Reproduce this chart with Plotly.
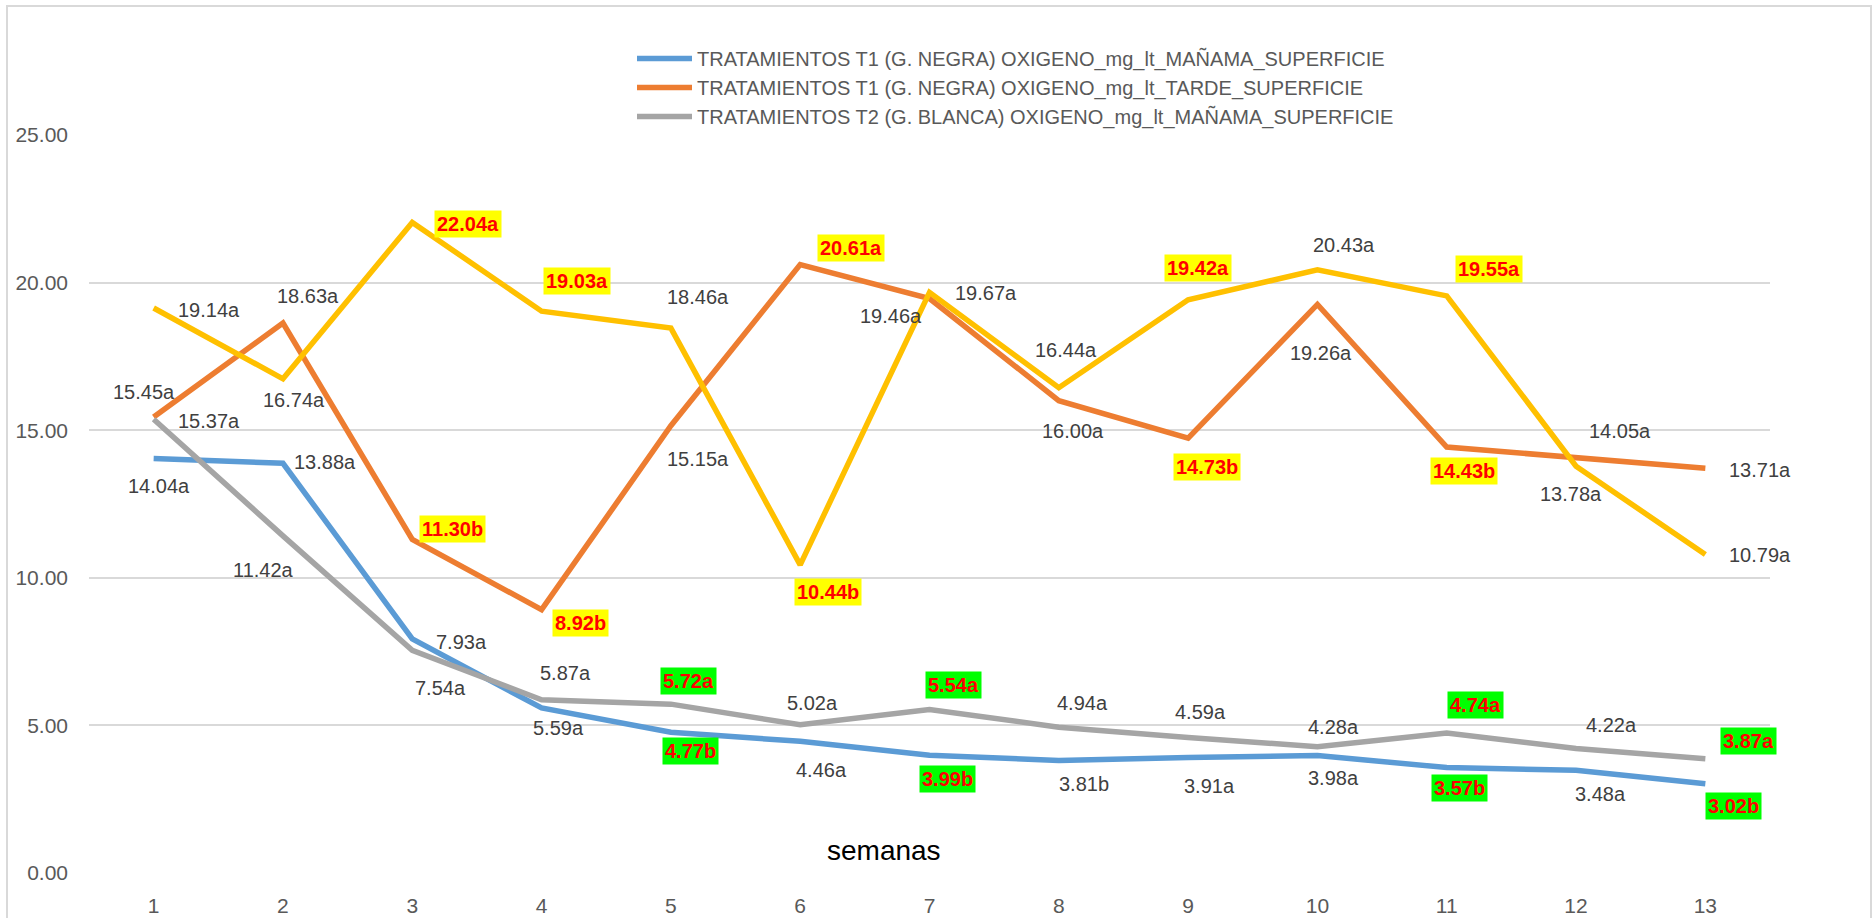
import plotly.graph_objects as go

# ---------------- data ----------------
weeks = list(range(1, 14))

t1_manana = [14.04, 13.88, 7.93, 5.59, 4.77, 4.46, 3.99, 3.81, 3.91, 3.98, 3.57, 3.48, 3.02]
t1_manana_lbl = ["14.04a", "13.88a", "7.93a", "5.59a", "4.77b", "4.46a", "3.99b", "3.81b",
                 "3.91a", "3.98a", "3.57b", "3.48a", "3.02b"]

t1_tarde = [15.45, 18.63, 11.30, 8.92, 15.15, 20.61, 19.46, 16.00, 14.73, 19.26, 14.43, 14.05, 13.71]
t1_tarde_lbl = ["15.45a", "18.63a", "11.30b", "8.92b", "15.15a", "20.61a", "19.46a", "16.00a",
                "14.73b", "19.26a", "14.43b", "14.05a", "13.71a"]

t2_manana = [15.37, 11.42, 7.54, 5.87, 5.72, 5.02, 5.54, 4.94, 4.59, 4.28, 4.74, 4.22, 3.87]
t2_manana_lbl = ["15.37a", "11.42a", "7.54a", "5.87a", "5.72a", "5.02a", "5.54a", "4.94a",
                 "4.59a", "4.28a", "4.74a", "4.22a", "3.87a"]

t2_tarde = [19.14, 16.74, 22.04, 19.03, 18.46, 10.44, 19.67, 16.44, 19.42, 20.43, 19.55, 13.78, 10.79]
t2_tarde_lbl = ["19.14a", "16.74a", "22.04a", "19.03a", "18.46a", "10.44b", "19.67a", "16.44a",
                "19.42a", "20.43a", "19.55a", "13.78a", "10.79a"]

names = [
    "TRATAMIENTOS T1 (G. NEGRA) OXIGENO_mg_lt_MAÑAMA_SUPERFICIE",
    "TRATAMIENTOS T1 (G. NEGRA) OXIGENO_mg_lt_TARDE_SUPERFICIE",
    "TRATAMIENTOS T2 (G. BLANCA) OXIGENO_mg_lt_MAÑAMA_SUPERFICIE",
    "TRATAMIENTOS T2 (G. BLANCA) OXIGENO_mg_lt_TARDE_SUPERFICIE",
]

# ---------------- styles ----------------
colors = ["#5B9BD5", "#ED7D31", "#A5A5A5", "#FFC000"]
show_legend = [True, True, True, False]

# label highlight per point: "" plain, "y" yellow box, "g" green box
hl_t1_manana = ["", "", "", "", "g", "", "g", "", "", "", "g", "", "g"]
hl_t1_tarde = ["", "", "y", "y", "", "y", "", "", "y", "", "y", "", ""]
hl_t2_manana = ["", "", "", "", "g", "", "g", "", "", "", "g", "", "g"]
hl_t2_tarde = ["", "", "y", "y", "", "y", "", "", "y", "", "y", "", ""]

# label offsets in screen pixels (dx right, dy down)
off_t1_manana = [(5, 27), (42, -1), (49, 3), (17, 20), (20, 19), (21, 29), (18, 24), (25, 23),
                 (21, 28), (16, 22), (13, 20), (24, 24), (28, 22)]
off_t1_tarde = [(-10, -25), (25, -27), (40, -10), (39, 13), (27, 33), (51, -17), (-39, 17), (14, 30),
                (19, 29), (4, 49), (17, 24), (44, -27), (55, 2)]
off_t2_manana = [(55, 2), (-19, 34), (28, 38), (24, -27), (18, -23), (12, -22), (24, -24), (24, -24),
                 (12, -26), (16, -20), (29, -28), (35, -23), (43, -18)]
off_t2_tarde = [(55, 2), (11, 21), (56, 2), (35, -30), (27, -31), (28, 27), (56, 1), (7, -38),
                (10, -32), (27, -25), (42, -27), (-5, 28), (55, 1)]

series = [
    (t1_manana, t1_manana_lbl, hl_t1_manana, off_t1_manana),
    (t1_tarde, t1_tarde_lbl, hl_t1_tarde, off_t1_tarde),
    (t2_manana, t2_manana_lbl, hl_t2_manana, off_t2_manana),
    (t2_tarde, t2_tarde_lbl, hl_t2_tarde, off_t2_tarde),
]

FONT = "Liberation Sans, Arial, sans-serif"
W, H = 1876, 918
ML, MR, MT, MB = 89, 106, 135, 45
PW, PH = W - ML - MR, H - MT - MB


def px_x(px):
    return (px - ML) / PW


def px_y(py):
    return (H - MB - py) / PH


fig = go.Figure()

for i, (vals, lbls, hls, offs) in enumerate(series):
    fig.add_trace(go.Scatter(
        x=weeks, y=vals, mode="lines", name=names[i], showlegend=show_legend[i],
        line=dict(color=colors[i], width=5.5),
    ))

annotations = []
for vals, lbls, hls, offs in series:
    for w, v, t, h, (dx, dy) in zip(weeks, vals, lbls, hls, offs):
        if h:
            annotations.append(dict(
                x=w, y=v, xref="x", yref="y", text="<b>" + t + "</b>", showarrow=False,
                xshift=dx, yshift=-dy,
                font=dict(family=FONT, size=20, color="#FF0000"),
                bgcolor="#FFFF00" if h == "y" else "#00FF00", borderpad=2,
            ))
        else:
            annotations.append(dict(
                x=w, y=v, xref="x", yref="y", text=t, showarrow=False,
                xshift=dx, yshift=-dy,
                font=dict(family=FONT, size=20, color="#404040"),
            ))

annotations.append(dict(
    x=px_x(884), y=px_y(850), xref="paper", yref="paper", text="semanas", showarrow=False,
    xanchor="center", yanchor="middle", font=dict(family=FONT, size=28, color="#000000"),
))

fig.update_layout(
    width=W, height=H,
    margin=dict(l=ML, r=MR, t=MT, b=MB, autoexpand=False),
    paper_bgcolor="white", plot_bgcolor="white",
    font=dict(family=FONT, color="#595959"),
    xaxis=dict(
        range=[0.5, 13.5], tickvals=weeks, ticktext=[str(w) for w in weeks],
        showgrid=False, zeroline=False, showline=False, ticks="",
        tickfont=dict(family=FONT, size=21, color="#595959"), ticklabelstandoff=18,
    ),
    yaxis=dict(
        range=[0, 25], tick0=0, dtick=5, tickformat=".2f",
        showgrid=True, gridcolor="#D9D9D9", gridwidth=2, zeroline=False, showline=False,
        ticks="", tickfont=dict(family=FONT, size=21, color="#595959"), ticklabelstandoff=20,
    ),
    legend=dict(
        x=px_x(632), y=px_y(39), xanchor="left", yanchor="top",
        font=dict(family=FONT, size=20, color="#595959"), bgcolor="rgba(0,0,0,0)",
        itemwidth=55, tracegroupgap=0,
    ),
    annotations=annotations,
    shapes=[dict(
        type="rect", xref="paper", yref="paper",
        x0=px_x(7), x1=px_x(1871), y0=px_y(6), y1=px_y(960),
        line=dict(color="#D9D9D9", width=2), fillcolor="rgba(0,0,0,0)", layer="below",
    )],
    showlegend=True,
)

fig.write_html(
    "out.html",
    config={"displayModeBar": False},
    post_script="document.body.style.margin='0';document.body.style.overflow='hidden';",
)
